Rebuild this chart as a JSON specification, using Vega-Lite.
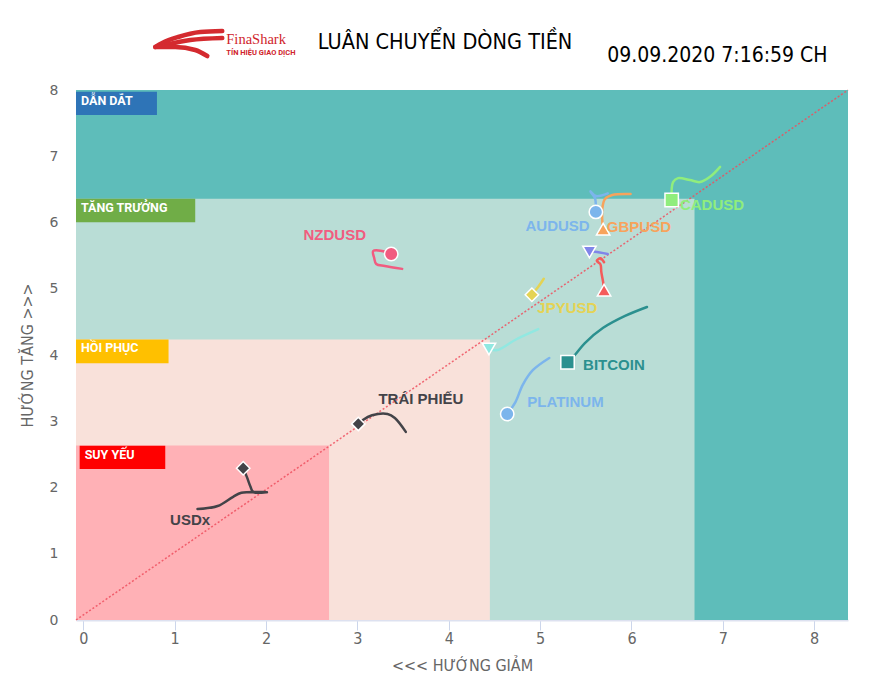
{
  "$schema": "https://vega.github.io/schema/vega-lite/v6.json",
  "width": 772,
  "height": 530,
  "autosize": {"type": "none"},
  "padding": {"left": 76, "top": 90, "right": 43, "bottom": 77},
  "background": "white",
  "config": {
    "view": {"stroke": null},
    "axisX": {"grid": false, "labelFlush": false, "domainColor": "#dde1f0", "domainWidth": 2, "tickColor": "#ccd6eb", "tickSize": 10, "tickWidth": 1,
      "labelFont": "'Liberation Sans Narrow', 'DejaVu Sans Condensed', sans-serif", "labelFontSize": 16, "labelColor": "#666666", "labelPadding": 0,
      "titleFont": "'Liberation Sans Narrow', 'DejaVu Sans Condensed', sans-serif", "titleFontSize": 16, "titleFontWeight": "normal", "titleColor": "#666666", "titlePadding": 11},
    "axisY": {"grid": false, "labelFlush": false, "domain": false, "ticks": false, "tickSize": 0,
      "labelPadding": 18, "labelFont": "DejaVu Sans", "labelFontSize": 14, "labelColor": "#666666",
      "titleFont": "'Liberation Sans Narrow', 'DejaVu Sans Condensed', sans-serif", "titleFontSize": 16, "titleFontWeight": "normal", "titleColor": "#666666", "titlePadding": 14}
  },
  "datasets": {
    "zones": [
      {"khu": "DẪN DẮT", "x": -0.08, "x2": 8.37, "y": 0, "y2": 8},
      {"khu": "TĂNG TRƯỞNG", "x": -0.08, "x2": 6.69, "y": 0, "y2": 6.36},
      {"khu": "HỒI PHỤC", "x": -0.08, "x2": 4.45, "y": 0, "y2": 4.235},
      {"khu": "SUY YẾU", "x": -0.08, "x2": 2.69, "y": 0, "y2": 2.635}
    ],
    "tags": [
      {"tag": "DẪN DẮT", "x": -0.08, "x2": 0.806, "y": 7.623, "y2": 7.974},
      {"tag": "TĂNG TRƯỞNG", "x": -0.08, "x2": 1.225, "y": 6.003, "y2": 6.36},
      {"tag": "HỒI PHỤC", "x": -0.08, "x2": 0.933, "y": 3.875, "y2": 4.235},
      {"tag": "SUY YẾU", "x": -0.04, "x2": 0.897, "y": 2.279, "y2": 2.631}
    ],
    "trails": [
      {"series": "CADUSD", "i": 1, "x": 6.97, "y": 6.84},
      {"series": "CADUSD", "i": 2, "x": 6.86, "y": 6.69},
      {"series": "CADUSD", "i": 3, "x": 6.75, "y": 6.61},
      {"series": "CADUSD", "i": 4, "x": 6.64, "y": 6.64},
      {"series": "CADUSD", "i": 5, "x": 6.51, "y": 6.67},
      {"series": "CADUSD", "i": 6, "x": 6.455, "y": 6.61},
      {"series": "CADUSD", "i": 7, "x": 6.44, "y": 6.34},
      {"series": "AUDUSD", "i": 1, "x": 5.74, "y": 6.44},
      {"series": "AUDUSD", "i": 2, "x": 5.61, "y": 6.40},
      {"series": "AUDUSD", "i": 3, "x": 5.55, "y": 6.47},
      {"series": "AUDUSD", "i": 4, "x": 5.60, "y": 6.37},
      {"series": "AUDUSD", "i": 5, "x": 5.61, "y": 6.26},
      {"series": "AUDUSD", "i": 6, "x": 5.61, "y": 6.16},
      {"series": "GBPUSD", "i": 1, "x": 5.99, "y": 6.43},
      {"series": "GBPUSD", "i": 2, "x": 5.79, "y": 6.415},
      {"series": "GBPUSD", "i": 3, "x": 5.71, "y": 6.355},
      {"series": "GBPUSD", "i": 4, "x": 5.68, "y": 6.20},
      {"series": "GBPUSD", "i": 5, "x": 5.68, "y": 6.04},
      {"series": "GBPUSD", "i": 6, "x": 5.69, "y": 5.90},
      {"series": "Chuỗi 5", "i": 1, "x": 5.74, "y": 5.525},
      {"series": "Chuỗi 5", "i": 2, "x": 5.60, "y": 5.56},
      {"series": "Chuỗi 5", "i": 3, "x": 5.54, "y": 5.555},
      {"series": "Chuỗi 9", "i": 1, "x": 5.70, "y": 5.40},
      {"series": "Chuỗi 9", "i": 2, "x": 5.66, "y": 5.46},
      {"series": "Chuỗi 9", "i": 3, "x": 5.62, "y": 5.42},
      {"series": "Chuỗi 9", "i": 4, "x": 5.66, "y": 5.37},
      {"series": "Chuỗi 9", "i": 5, "x": 5.67, "y": 5.25},
      {"series": "Chuỗi 9", "i": 6, "x": 5.69, "y": 5.10},
      {"series": "Chuỗi 9", "i": 7, "x": 5.70, "y": 4.98},
      {"series": "JPYUSD", "i": 1, "x": 5.04, "y": 5.15},
      {"series": "JPYUSD", "i": 2, "x": 4.98, "y": 5.03},
      {"series": "JPYUSD", "i": 3, "x": 4.91, "y": 4.91},
      {"series": "Chuỗi 10", "i": 1, "x": 4.98, "y": 4.39},
      {"series": "Chuỗi 10", "i": 2, "x": 4.73, "y": 4.23},
      {"series": "Chuỗi 10", "i": 3, "x": 4.53, "y": 4.075},
      {"series": "Chuỗi 10", "i": 4, "x": 4.44, "y": 4.09},
      {"series": "BITCOIN", "i": 1, "x": 6.17, "y": 4.725},
      {"series": "BITCOIN", "i": 2, "x": 5.93, "y": 4.59},
      {"series": "BITCOIN", "i": 3, "x": 5.69, "y": 4.41},
      {"series": "BITCOIN", "i": 4, "x": 5.49, "y": 4.18},
      {"series": "BITCOIN", "i": 5, "x": 5.38, "y": 4.00},
      {"series": "BITCOIN", "i": 6, "x": 5.30, "y": 3.89},
      {"series": "PLATINUM", "i": 1, "x": 5.10, "y": 3.955},
      {"series": "PLATINUM", "i": 2, "x": 4.92, "y": 3.77},
      {"series": "PLATINUM", "i": 3, "x": 4.81, "y": 3.55},
      {"series": "PLATINUM", "i": 4, "x": 4.73, "y": 3.29},
      {"series": "PLATINUM", "i": 5, "x": 4.64, "y": 3.11},
      {"series": "TRÁI PHIẾU", "i": 1, "x": 3.53, "y": 2.84},
      {"series": "TRÁI PHIẾU", "i": 2, "x": 3.41, "y": 3.05},
      {"series": "TRÁI PHIẾU", "i": 3, "x": 3.33, "y": 3.11},
      {"series": "TRÁI PHIẾU", "i": 4, "x": 3.16, "y": 3.09},
      {"series": "TRÁI PHIẾU", "i": 5, "x": 3.06, "y": 3.02},
      {"series": "TRÁI PHIẾU", "i": 6, "x": 3.01, "y": 2.96},
      {"series": "USDx", "i": 1, "x": 1.25, "y": 1.675},
      {"series": "USDx", "i": 2, "x": 1.47, "y": 1.72},
      {"series": "USDx", "i": 3, "x": 1.64, "y": 1.86},
      {"series": "USDx", "i": 4, "x": 1.73, "y": 1.92},
      {"series": "USDx", "i": 5, "x": 2.01, "y": 1.93},
      {"series": "USDx", "i": 6, "x": 1.86, "y": 1.93},
      {"series": "USDx", "i": 7, "x": 1.83, "y": 2.01},
      {"series": "USDx", "i": 8, "x": 1.79, "y": 2.16},
      {"series": "USDx", "i": 9, "x": 1.75, "y": 2.29},
      {"series": "NZDUSD", "i": 1, "x": 3.49, "y": 5.30},
      {"series": "NZDUSD", "i": 2, "x": 3.30, "y": 5.343},
      {"series": "NZDUSD", "i": 3, "x": 3.206, "y": 5.374},
      {"series": "NZDUSD", "i": 4, "x": 3.184, "y": 5.464},
      {"series": "NZDUSD", "i": 5, "x": 3.173, "y": 5.57},
      {"series": "NZDUSD", "i": 6, "x": 3.32, "y": 5.555},
      {"series": "NZDUSD", "i": 7, "x": 3.37, "y": 5.525}
    ],
    "markers": [
      {"series": "CADUSD", "x": 6.44, "y": 6.34},
      {"series": "AUDUSD", "x": 5.61, "y": 6.16},
      {"series": "GBPUSD", "x": 5.69, "y": 5.90},
      {"series": "Chuỗi 5", "x": 5.54, "y": 5.555},
      {"series": "Chuỗi 9", "x": 5.70, "y": 4.98},
      {"series": "JPYUSD", "x": 4.91, "y": 4.91},
      {"series": "Chuỗi 10", "x": 4.44, "y": 4.09},
      {"series": "BITCOIN", "x": 5.30, "y": 3.89},
      {"series": "PLATINUM", "x": 4.64, "y": 3.11},
      {"series": "TRÁI PHIẾU", "x": 3.01, "y": 2.96},
      {"series": "USDx", "x": 1.75, "y": 2.29},
      {"series": "NZDUSD", "x": 3.37, "y": 5.525}
    ],
    "labels": [
      {"series": "CADUSD", "x": 6.53, "y": 6.26},
      {"series": "AUDUSD", "x": 4.84, "y": 5.95},
      {"series": "GBPUSD", "x": 5.73, "y": 5.93},
      {"series": "JPYUSD", "x": 4.97, "y": 4.71},
      {"series": "BITCOIN", "x": 5.47, "y": 3.85},
      {"series": "PLATINUM", "x": 4.86, "y": 3.29},
      {"series": "TRÁI PHIẾU", "x": 3.23, "y": 3.34},
      {"series": "USDx", "x": 0.95, "y": 1.51},
      {"series": "NZDUSD", "x": 2.41, "y": 5.81}
    ],
    "logo": [
      {"part": "trên", "i": 1, "x": 1.521, "y": 8.891},
      {"part": "trên", "i": 2, "x": 1.28, "y": 8.875},
      {"part": "trên", "i": 3, "x": 1.039, "y": 8.8},
      {"part": "trên", "i": 4, "x": 0.864, "y": 8.709},
      {"part": "trên", "i": 5, "x": 0.788, "y": 8.649},
      {"part": "giữa", "i": 1, "x": 1.521, "y": 8.785},
      {"part": "giữa", "i": 2, "x": 1.171, "y": 8.755},
      {"part": "giữa", "i": 3, "x": 0.897, "y": 8.679},
      {"part": "dưới", "i": 1, "x": 0.788, "y": 8.649},
      {"part": "dưới", "i": 2, "x": 1.007, "y": 8.649},
      {"part": "dưới", "i": 3, "x": 1.225, "y": 8.604},
      {"part": "dưới", "i": 4, "x": 1.357, "y": 8.513}
    ]
  },
  "resolve": {"scale": {"fill": "independent"}},
  "layer": [
    {
      "data": {"name": "zones"},
      "mark": {"type": "rect"},
      "encoding": {
        "x": {"field": "x", "type": "quantitative", "scale": {"domain": [-0.08, 8.37], "nice": false, "zero": false}, "axis": {"title": "<<< HƯỚNG GIẢM", "values": [0, 1, 2, 3, 4, 5, 6, 7, 8]}},
        "x2": {"field": "x2"},
        "y": {"field": "y", "type": "quantitative", "scale": {"domain": [0, 8], "nice": false, "zero": false}, "axis": {"title": "HƯỚNG TĂNG >>>", "values": [0, 1, 2, 3, 4, 5, 6, 7, 8]}},
        "y2": {"field": "y2"},
        "fill": {"field": "khu", "type": "nominal", "legend": null,
          "scale": {"domain": ["DẪN DẮT", "TĂNG TRƯỞNG", "HỒI PHỤC", "SUY YẾU"], "range": ["#5ebdba", "#b9ddd6", "#f9e1da", "#ffb1b6"]}}
      }
    },
    {
      "data": {"name": "tags"},
      "mark": {"type": "rect"},
      "encoding": {
        "x": {"field": "x", "type": "quantitative", "scale": {"domain": [-0.08, 8.37], "nice": false, "zero": false}, "axis": {"title": "<<< HƯỚNG GIẢM", "values": [0, 1, 2, 3, 4, 5, 6, 7, 8]}},
        "x2": {"field": "x2"},
        "y": {"field": "y", "type": "quantitative", "scale": {"domain": [0, 8], "nice": false, "zero": false}, "axis": {"title": "HƯỚNG TĂNG >>>", "values": [0, 1, 2, 3, 4, 5, 6, 7, 8]}},
        "y2": {"field": "y2"},
        "fill": {"field": "tag", "type": "nominal", "legend": null,
          "scale": {"domain": ["DẪN DẮT", "TĂNG TRƯỞNG", "HỒI PHỤC", "SUY YẾU"], "range": ["#2e74b7", "#70ad47", "#ffc000", "#ff0000"]}}
      }
    },
    {
      "data": {"name": "tags"},
      "mark": {"type": "text", "align": "left", "baseline": "top", "dx": 5, "dy": 3, "font": "Roboto", "fontSize": 12.5, "fontWeight": "bold", "color": "white"},
      "encoding": {
        "x": {"field": "x", "type": "quantitative", "scale": {"domain": [-0.08, 8.37], "nice": false, "zero": false}, "axis": {"title": "<<< HƯỚNG GIẢM", "values": [0, 1, 2, 3, 4, 5, 6, 7, 8]}},
        "y": {"field": "y2", "type": "quantitative", "scale": {"domain": [0, 8], "nice": false, "zero": false}, "axis": {"title": "HƯỚNG TĂNG >>>", "values": [0, 1, 2, 3, 4, 5, 6, 7, 8]}},
        "text": {"field": "tag"}
      }
    },
    {
      "data": {"values": [{"x": -0.08, "y": 0}, {"x": 8.37, "y": 8}]},
      "mark": {"type": "line", "color": "#ee4f5e", "strokeWidth": 1.5, "strokeDash": [2, 2], "opacity": 0.85},
      "encoding": {
        "x": {"field": "x", "type": "quantitative", "scale": {"domain": [-0.08, 8.37], "nice": false, "zero": false}, "axis": {"title": "<<< HƯỚNG GIẢM", "values": [0, 1, 2, 3, 4, 5, 6, 7, 8]}},
        "y": {"field": "y", "type": "quantitative", "scale": {"domain": [0, 8], "nice": false, "zero": false}, "axis": {"title": "HƯỚNG TĂNG >>>", "values": [0, 1, 2, 3, 4, 5, 6, 7, 8]}}
      }
    },
    {
      "data": {"name": "trails"},
      "mark": {"type": "line", "interpolate": "catmull-rom", "strokeWidth": 2.5, "strokeCap": "round"},
      "encoding": {
        "x": {"field": "x", "type": "quantitative", "scale": {"domain": [-0.08, 8.37], "nice": false, "zero": false}, "axis": {"title": "<<< HƯỚNG GIẢM", "values": [0, 1, 2, 3, 4, 5, 6, 7, 8]}},
        "y": {"field": "y", "type": "quantitative", "scale": {"domain": [0, 8], "nice": false, "zero": false}, "axis": {"title": "HƯỚNG TĂNG >>>", "values": [0, 1, 2, 3, 4, 5, 6, 7, 8]}},
        "order": {"field": "i", "type": "quantitative"},
        "color": {"field": "series", "type": "nominal", "legend": null,
          "scale": {"domain": ["AUDUSD", "TRÁI PHIẾU", "CADUSD", "GBPUSD", "Chuỗi 5", "NZDUSD", "JPYUSD", "BITCOIN", "Chuỗi 9", "Chuỗi 10", "PLATINUM", "USDx"],
            "range": ["#7cb5ec", "#434348", "#90ed7d", "#f7a35c", "#8085e9", "#f15c80", "#e4d354", "#2b908f", "#f45b5b", "#91e8e1", "#7cb5ec", "#434348"]}}
      }
    },
    {
      "data": {"name": "markers"},
      "mark": {"type": "point", "filled": true, "size": 180, "stroke": "white", "strokeWidth": 1.5, "opacity": 1},
      "encoding": {
        "x": {"field": "x", "type": "quantitative", "scale": {"domain": [-0.08, 8.37], "nice": false, "zero": false}, "axis": {"title": "<<< HƯỚNG GIẢM", "values": [0, 1, 2, 3, 4, 5, 6, 7, 8]}},
        "y": {"field": "y", "type": "quantitative", "scale": {"domain": [0, 8], "nice": false, "zero": false}, "axis": {"title": "HƯỚNG TĂNG >>>", "values": [0, 1, 2, 3, 4, 5, 6, 7, 8]}},
        "color": {"field": "series", "type": "nominal", "legend": null,
          "scale": {"domain": ["AUDUSD", "TRÁI PHIẾU", "CADUSD", "GBPUSD", "Chuỗi 5", "NZDUSD", "JPYUSD", "BITCOIN", "Chuỗi 9", "Chuỗi 10", "PLATINUM", "USDx"],
            "range": ["#7cb5ec", "#434348", "#90ed7d", "#f7a35c", "#8085e9", "#f15c80", "#e4d354", "#2b908f", "#f45b5b", "#91e8e1", "#7cb5ec", "#434348"]}},
        "shape": {"field": "series", "type": "nominal", "legend": null,
          "scale": {"domain": ["AUDUSD", "TRÁI PHIẾU", "CADUSD", "GBPUSD", "Chuỗi 5", "NZDUSD", "JPYUSD", "BITCOIN", "Chuỗi 9", "Chuỗi 10", "PLATINUM", "USDx"],
            "range": ["circle", "diamond", "square", "triangle-up", "triangle-down", "circle", "diamond", "square", "triangle-up", "triangle-down", "circle", "diamond"]}}
      }
    },
    {
      "data": {"name": "labels"},
      "mark": {"type": "text", "align": "left", "baseline": "middle", "font": "Liberation Sans", "fontSize": 15, "fontWeight": "bold"},
      "encoding": {
        "x": {"field": "x", "type": "quantitative", "scale": {"domain": [-0.08, 8.37], "nice": false, "zero": false}, "axis": {"title": "<<< HƯỚNG GIẢM", "values": [0, 1, 2, 3, 4, 5, 6, 7, 8]}},
        "y": {"field": "y", "type": "quantitative", "scale": {"domain": [0, 8], "nice": false, "zero": false}, "axis": {"title": "HƯỚNG TĂNG >>>", "values": [0, 1, 2, 3, 4, 5, 6, 7, 8]}},
        "text": {"field": "series"},
        "color": {"field": "series", "type": "nominal", "legend": null,
          "scale": {"domain": ["AUDUSD", "TRÁI PHIẾU", "CADUSD", "GBPUSD", "Chuỗi 5", "NZDUSD", "JPYUSD", "BITCOIN", "Chuỗi 9", "Chuỗi 10", "PLATINUM", "USDx"],
            "range": ["#7cb5ec", "#434348", "#90ed7d", "#f7a35c", "#8085e9", "#f15c80", "#e4d354", "#2b908f", "#f45b5b", "#91e8e1", "#7cb5ec", "#434348"]}}
      }
    },
    {
      "data": {"name": "logo"},
      "mark": {"type": "line", "interpolate": "monotone", "color": "#d42a2f", "strokeWidth": 4.5, "strokeCap": "round"},
      "encoding": {
        "x": {"field": "x", "type": "quantitative", "scale": {"domain": [-0.08, 8.37], "nice": false, "zero": false}, "axis": {"title": "<<< HƯỚNG GIẢM", "values": [0, 1, 2, 3, 4, 5, 6, 7, 8]}},
        "y": {"field": "y", "type": "quantitative", "scale": {"domain": [0, 8], "nice": false, "zero": false}, "axis": {"title": "HƯỚNG TĂNG >>>", "values": [0, 1, 2, 3, 4, 5, 6, 7, 8]}},
        "order": {"field": "i", "type": "quantitative"},
        "detail": {"field": "part", "type": "nominal"}
      }
    },
    {
      "data": {"values": [{"t": "LUÂN CHUYỂN DÒNG TIỀN", "x": 3.96, "y": 8.71}]},
      "mark": {"type": "text", "align": "center", "baseline": "middle", "font": "'Liberation Sans Narrow', 'DejaVu Sans Condensed', sans-serif", "fontSize": 21.5, "color": "#000000"},
      "encoding": {
        "x": {"field": "x", "type": "quantitative", "scale": {"domain": [-0.08, 8.37], "nice": false, "zero": false}, "axis": {"title": "<<< HƯỚNG GIẢM", "values": [0, 1, 2, 3, 4, 5, 6, 7, 8]}},
        "y": {"field": "y", "type": "quantitative", "scale": {"domain": [0, 8], "nice": false, "zero": false}, "axis": {"title": "HƯỚNG TĂNG >>>", "values": [0, 1, 2, 3, 4, 5, 6, 7, 8]}},
        "text": {"field": "t"}
      }
    },
    {
      "data": {"values": [{"t": "09.09.2020 7:16:59 CH", "x": 6.94, "y": 8.51}]},
      "mark": {"type": "text", "align": "center", "baseline": "middle", "font": "'Liberation Sans Narrow', 'DejaVu Sans Condensed', sans-serif", "fontSize": 21, "color": "#000000"},
      "encoding": {
        "x": {"field": "x", "type": "quantitative", "scale": {"domain": [-0.08, 8.37], "nice": false, "zero": false}, "axis": {"title": "<<< HƯỚNG GIẢM", "values": [0, 1, 2, 3, 4, 5, 6, 7, 8]}},
        "y": {"field": "y", "type": "quantitative", "scale": {"domain": [0, 8], "nice": false, "zero": false}, "axis": {"title": "HƯỚNG TĂNG >>>", "values": [0, 1, 2, 3, 4, 5, 6, 7, 8]}},
        "text": {"field": "t"}
      }
    },
    {
      "data": {"values": [{"t": "FinaShark", "x": 1.565, "y": 8.75}]},
      "mark": {"type": "text", "align": "left", "baseline": "middle", "font": "Liberation Serif", "fontSize": 14.5, "color": "#d0232b"},
      "encoding": {
        "x": {"field": "x", "type": "quantitative", "scale": {"domain": [-0.08, 8.37], "nice": false, "zero": false}, "axis": {"title": "<<< HƯỚNG GIẢM", "values": [0, 1, 2, 3, 4, 5, 6, 7, 8]}},
        "y": {"field": "y", "type": "quantitative", "scale": {"domain": [0, 8], "nice": false, "zero": false}, "axis": {"title": "HƯỚNG TĂNG >>>", "values": [0, 1, 2, 3, 4, 5, 6, 7, 8]}},
        "text": {"field": "t"}
      }
    },
    {
      "data": {"values": [{"t": "TÍN HIỆU GIAO DỊCH", "x": 1.565, "y": 8.56}]},
      "mark": {"type": "text", "align": "left", "baseline": "middle", "font": "Roboto", "fontSize": 7.5, "fontWeight": "bold", "color": "#d0232b"},
      "encoding": {
        "x": {"field": "x", "type": "quantitative", "scale": {"domain": [-0.08, 8.37], "nice": false, "zero": false}, "axis": {"title": "<<< HƯỚNG GIẢM", "values": [0, 1, 2, 3, 4, 5, 6, 7, 8]}},
        "y": {"field": "y", "type": "quantitative", "scale": {"domain": [0, 8], "nice": false, "zero": false}, "axis": {"title": "HƯỚNG TĂNG >>>", "values": [0, 1, 2, 3, 4, 5, 6, 7, 8]}},
        "text": {"field": "t"}
      }
    }
  ]
}
